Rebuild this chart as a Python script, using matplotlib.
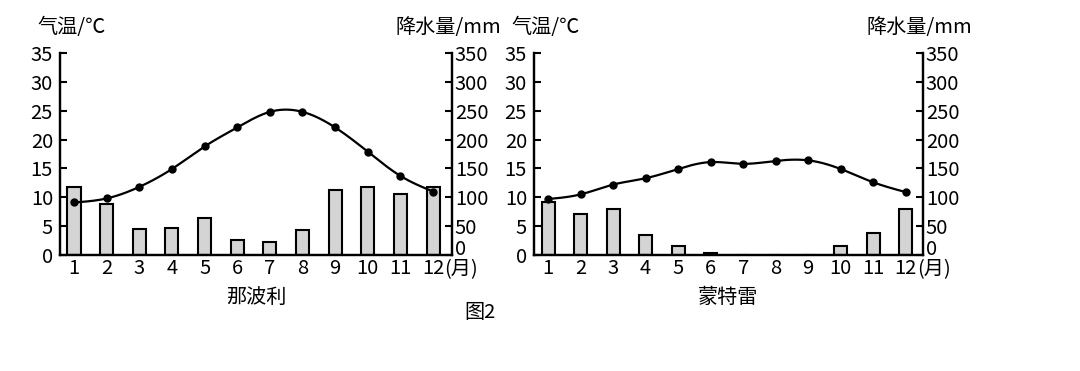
import numpy as np
import matplotlib
matplotlib.use("Agg")
import matplotlib.pyplot as plt

plt.rcParams['font.family'] = ['Noto Sans CJK SC', 'DejaVu Sans']

months = list(range(1, 13))
month_labels = [str(m) for m in months]

naples_temp = [9.1, 9.8, 11.8, 14.9, 18.8, 22.1, 24.8, 24.8, 22.1, 17.9, 13.7, 11.0]
naples_prec = [117, 89, 45, 46, 64, 26, 22, 43, 112, 117, 106, 117]

monterey_temp = [9.7, 10.5, 12.2, 13.3, 14.9, 16.1, 15.8, 16.3, 16.4, 14.9, 12.6, 10.9]
monterey_prec = [91, 71, 80, 35, 15, 3, 0, 0, 0, 15, 38, 79]

temp_ticks = [0, 5, 10, 15, 20, 25, 30, 35]
prec_ticks = [0, 50, 100, 150, 200, 250, 300, 350]


def natural_spline(x, y, n=400):
    x = np.asarray(x, float)
    y = np.asarray(y, float)
    k = len(x)
    h = np.diff(x)
    A = np.zeros((k, k))
    b = np.zeros(k)
    A[0, 0] = 1
    A[-1, -1] = 1
    for i in range(1, k - 1):
        A[i, i - 1] = h[i - 1]
        A[i, i] = 2 * (h[i - 1] + h[i])
        A[i, i + 1] = h[i]
        b[i] = 3 * ((y[i + 1] - y[i]) / h[i] - (y[i] - y[i - 1]) / h[i - 1])
    c = np.linalg.solve(A, b)
    xs = np.linspace(x[0], x[-1], n)
    ys = np.empty_like(xs)
    for j, xv in enumerate(xs):
        i = min(np.searchsorted(x, xv, side='right') - 1, k - 2)
        bi = (y[i + 1] - y[i]) / h[i] - h[i] * (2 * c[i] + c[i + 1]) / 3
        di = (c[i + 1] - c[i]) / (3 * h[i])
        t = xv - x[i]
        ys[j] = y[i] + bi * t + c[i] * t ** 2 + di * t ** 3
    return xs, ys


W, H = 1080, 371
fig = plt.figure(figsize=(W / 100, H / 100), dpi=100)

FS = 14.5


def panel(left_px, right_px, temp, prec, name, xlim):
    bottom_px, top_px = 255, 53
    ax = fig.add_axes([left_px / W, 1 - bottom_px / H,
                       (right_px - left_px) / W, (bottom_px - top_px) / H])
    ax2 = ax.twinx()
    ax.set_zorder(ax2.get_zorder() + 1)
    ax.patch.set_visible(False)

    ax2.bar(months, prec, width=0.4, color='#d4d4d4', edgecolor='black',
            linewidth=1.5, zorder=2)
    xs, ys = natural_spline(months, temp)
    ax.plot(xs, ys, color='black', lw=1.6, zorder=3)
    ax.plot(months, temp, 'o', color='black', ms=5, zorder=4)

    for a in (ax, ax2):
        a.set_xlim(*xlim)
        a.spines['top'].set_visible(False)
        for s in ('left', 'right', 'bottom'):
            a.spines[s].set_linewidth(1.6)
    ax.set_ylim(0, 35)
    ax2.set_ylim(0, 350)
    ax.set_yticks(temp_ticks)
    ax.set_yticklabels([str(t) for t in temp_ticks], fontsize=FS)
    ax2.set_yticks(prec_ticks)
    ax2.set_yticklabels([str(t) for t in prec_ticks], fontsize=FS)
    ax.tick_params(axis='y', direction='in', length=5, width=1.5, pad=5)
    ax2.tick_params(axis='y', direction='in', length=5, width=1.5, pad=2)
    for tk in ax2.yaxis.get_major_ticks()[:1]:
        tk.label2.set_va('baseline')
    ax.set_xticks(months)
    ax.set_xticklabels(month_labels, fontsize=FS)
    ax.tick_params(axis='x', length=0, pad=2)
    ax2.tick_params(axis='x', length=0)

    ax.annotate('(月)', xy=(12, 0), xycoords=('data', 'axes fraction'),
                xytext=(8, -3), textcoords='offset points',
                ha='left', va='top', fontsize=FS)
    cx = (left_px + right_px) / 2
    fig.text(cx / W, 1 - 297 / H, name, ha='center', va='center', fontsize=FS)
    fig.text((left_px - 23) / W, 1 - 28 / H, '气温/℃', ha='left',
             va='center', fontsize=FS)
    fig.text((right_px + 49) / W, 1 - 28 / H, '降水量/mm', ha='right',
             va='center', fontsize=FS)
    return ax


panel(60, 452, naples_temp, naples_prec, '那波利', (0.571, 12.58))
panel(534, 923, monterey_temp, monterey_prec, '蒙特雷', (0.569, 12.53))

fig.text(480 / W, 1 - 313 / H, '图2', ha='center', va='center', fontsize=FS)

fig.savefig('out.png', dpi=100)
